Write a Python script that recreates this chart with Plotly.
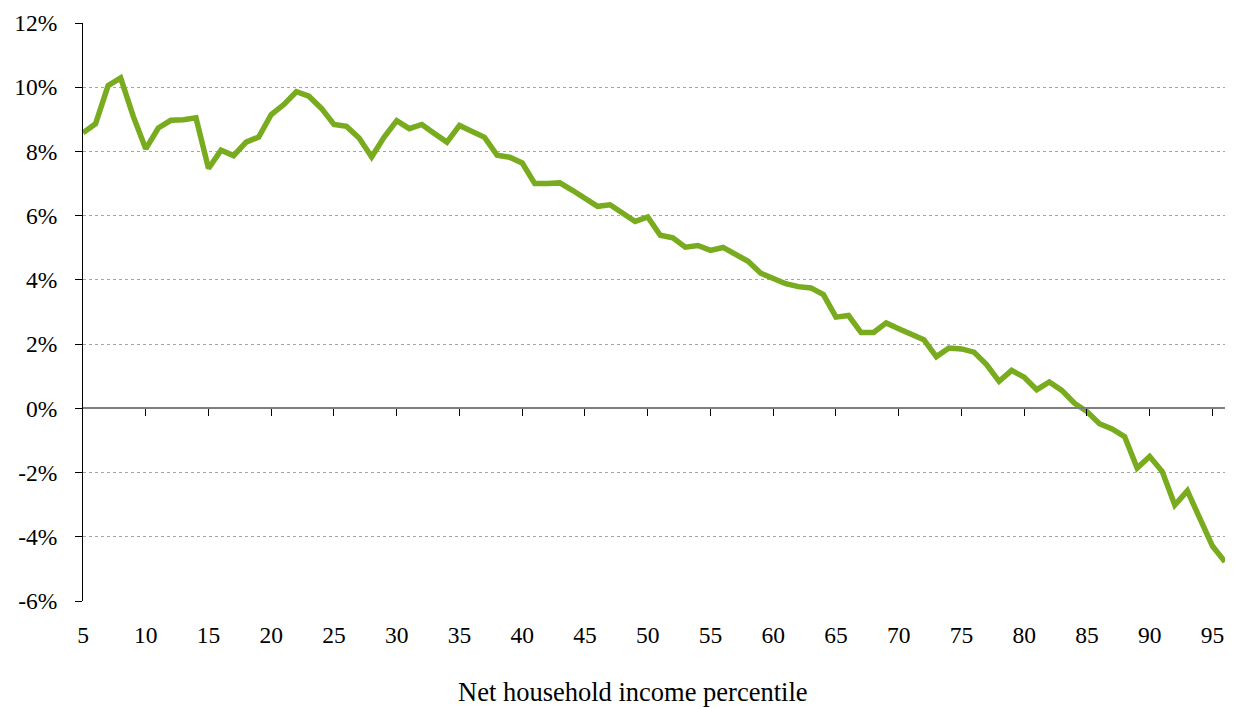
import plotly.graph_objects as go

percentiles = list(range(5, 97))
change_pct = [
    8.58, 8.86, 10.05, 10.29, 9.10, 8.08, 8.73, 8.97, 8.99, 9.05,
    7.47, 8.04, 7.87, 8.29, 8.45, 9.15, 9.46, 9.86, 9.72, 9.34,
    8.84, 8.78, 8.42, 7.83, 8.45, 8.96, 8.71, 8.84, 8.56, 8.29,
    8.81, 8.62, 8.44, 7.88, 7.82, 7.64, 7.00, 7.00, 7.02, 6.79,
    6.55, 6.29, 6.34, 6.08, 5.82, 5.96, 5.39, 5.31, 5.02, 5.07,
    4.92, 5.01, 4.78, 4.58, 4.21, 4.06, 3.88, 3.79, 3.75, 3.54,
    2.84, 2.89, 2.36, 2.36, 2.66, 2.48, 2.32, 2.14, 1.61, 1.88,
    1.85, 1.75, 1.36, 0.84, 1.18, 0.97, 0.58, 0.82, 0.56, 0.16,
    -0.10, -0.48, -0.64, -0.88, -1.86, -1.50, -1.97, -3.01, -2.57, -3.48,
    -4.29, -4.78,
]

y_tickvals = [12, 10, 8, 6, 4, 2, 0, -2, -4, -6]
y_ticktext = ["12%", "10%", "8%", "6%", "4%", "2%", "0%", "-2%", "-4%", "-6%"]
x_tickvals = list(range(5, 96, 5))
x_ticktext = [str(v) for v in x_tickvals]
x_zero_ticks = list(range(10, 96, 5))
x_title = "Net household income percentile"

FONT = "Liberation Serif"
FS = 23.5

# The page body has an 8px margin, so the figure is offset by (8, 8);
# margins below are chosen so the plot area lands at x 83..1225, y 23..601.
fig = go.Figure()
fig.add_trace(go.Scatter(
    x=percentiles, y=change_pct, mode="lines",
    line=dict(color="#78AB1E", width=5.5),
    showlegend=False, hoverinfo="skip",
))

# invisible trace on xaxis2 so the zero-line axis is rendered
fig.add_trace(go.Scatter(
    x=[5], y=[None], xaxis="x2", mode="lines",
    showlegend=False, hoverinfo="skip",
))

fig.update_layout(
    width=1220, height=700,
    margin=dict(l=75, r=3, t=15, b=107, autoexpand=False),
    paper_bgcolor="white", plot_bgcolor="white",
    font=dict(family=FONT, size=FS, color="black"),
    xaxis=dict(
        range=[5, 96], tickvals=x_tickvals, ticktext=x_ticktext,
        showgrid=False, zeroline=False, showline=False, ticks="",
        automargin=False,
        ticklabelstandoff=17, tickfont=dict(family=FONT, size=FS, color="black"),
    ),
    xaxis2=dict(
        overlaying="x", matches="x", anchor="free", position=6 / 18,
        range=[5, 96], tickvals=x_zero_ticks, showticklabels=False,
        showgrid=False, zeroline=False, automargin=False,
        showline=True, linecolor="#7f7f7f", linewidth=2,
        ticks="outside", ticklen=7, tickwidth=1, tickcolor="black",
    ),
    yaxis=dict(
        range=[-6, 12], tickvals=y_tickvals, ticktext=y_ticktext,
        showgrid=True, gridcolor="#a6a6a6", gridwidth=1, griddash="dot",
        zeroline=False, showline=True, linecolor="black", linewidth=1,
        ticks="outside", ticklen=7, tickcolor="black", tickwidth=1,
        automargin=False,
        ticklabelstandoff=13, tickfont=dict(family=FONT, size=FS, color="black"),
    ),
    annotations=[dict(
        text=x_title, xref="paper", yref="paper",
        x=(633 - 83) / 1142, y=(601 - 692) / 578,
        xanchor="center", yanchor="middle", showarrow=False,
        font=dict(family=FONT, size=26.5, color="black"),
    )],
)

fig.write_html("out.html")
